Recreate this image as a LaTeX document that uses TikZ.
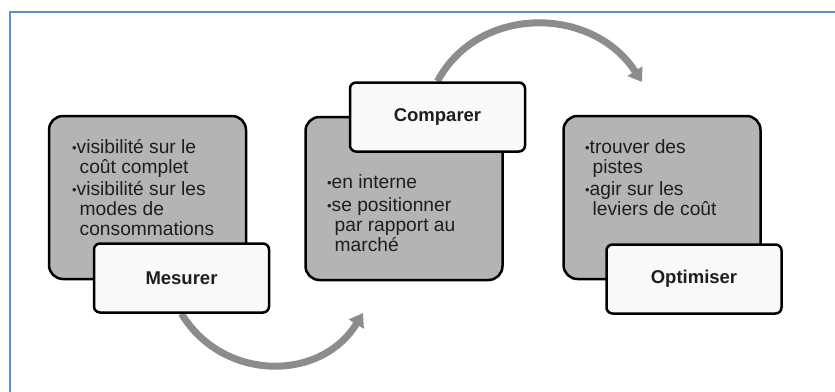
\documentclass[tikz,border=0pt]{standalone}
\usepackage{fontspec}
\setmainfont{Liberation Sans}
\usetikzlibrary{arrows.meta,backgrounds}
\definecolor{frameblue}{RGB}{98,141,208}
\definecolor{boxgrey}{RGB}{180,180,180}
\definecolor{arrowgrey}{RGB}{140,140,140}
\definecolor{txt}{RGB}{30,30,30}
\definecolor{lightbox}{RGB}{249,249,249}
\newcommand{\itm}[1]{\par\hangindent=7.5pt\hangafter=1\noindent\makebox[4.5pt][l]{\fontsize{13}{13}\selectfont\raisebox{0.5pt}{•}}#1\par}
\begin{document}
\begin{tikzpicture}[x=1pt,y=-1pt,
  greybox/.style={draw=black, line width=2.5pt, fill=boxgrey, rounded corners=14pt, inner sep=0, minimum width=197pt, minimum height=163pt},
  whitebox/.style={draw=black, line width=2.5pt, fill=lightbox, rounded corners=6pt, inner sep=0, minimum width=175pt, minimum height=69pt, font=\bfseries\fontsize{18.5}{20}\selectfont, text=txt},
  bodytext/.style={inner sep=0, anchor=base west, font=\fontsize{19.2}{20}\selectfont, text=txt},
  cyclearrow/.style={draw=arrowgrey, line width=7pt, -{Triangle[width=17pt,length=13pt]}}]
\useasboundingbox (0,0) rectangle (835,391);
\draw[frameblue, line width=2pt] (10,395) -- (10,12) -- (840,12);
% grey boxes
\node[greybox] (g1) at (147.5,197.5) {};
\node[greybox] (g2) at (404,198.5) {};
\node[greybox] (g3) at (662,197.5) {};
% body texts
\node[bodytext] (t1) at (72,153) {\vtop{\hsize=190pt\parindent=0pt\raggedright
  \itm{visibilité sur le\newline coût complet}\vspace{2pt}\itm{visibilité sur les\newline modes de\newline consommations}}};
\node[bodytext] (t2) at (327,188) {\vtop{\hsize=190pt\parindent=0pt\raggedright
  \itm{en interne}\vspace{3pt}\itm{se positionner\newline par rapport au\newline marché}}};
\node[bodytext] (t3) at (585,153) {\vtop{\hsize=190pt\parindent=0pt\raggedright
  \itm{trouver des\newline pistes}\vspace{2pt}\itm{agir sur les\newline leviers de coût}}};
% white label boxes
\node[whitebox] (w1) at (181.5,278) {Mesurer};
\node[whitebox] (w2) at (437.5,117) {Comparer};
\node[whitebox] (w3) at (694,279) {Optimiser};
% arrows
\coordinate (e1) at (363,313);
\coordinate (e2) at (642,82);
\begin{scope}[on background layer]
\draw[cyclearrow] (w1.south) .. controls (223,382) and (321,382) .. (e1);
\draw[cyclearrow] (w2.north) .. controls (478,5) and (592,5) .. (e2);
\end{scope}
\end{tikzpicture}
\end{document}
